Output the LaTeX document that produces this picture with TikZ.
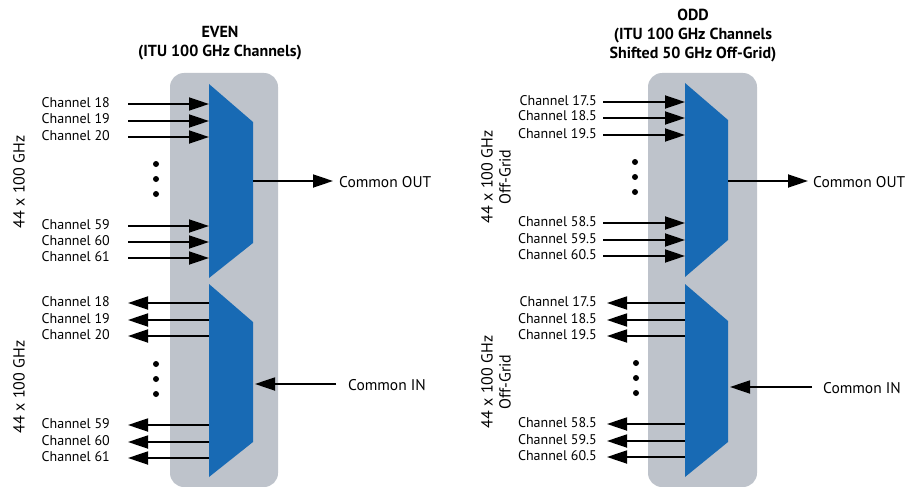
\documentclass[tikz,border=0pt]{standalone}
\usepackage{fontspec}
\setmainfont{PT Sans}
\usetikzlibrary{arrows.meta}
\definecolor{panelgray}{RGB}{190,195,203}
\definecolor{muxblue}{RGB}{24,106,180}
\begin{document}
\begin{tikzpicture}[x=1pt,y=-1pt,
  lbl/.style={font=\fontsize{14}{16}\selectfont, inner sep=0pt},
  clbl/.style={font=\fontsize{15.5}{17}\selectfont, inner sep=0pt},
  ttl/.style={font=\fontsize{16}{19}\selectfont\bfseries, align=center, inner sep=0pt},
  side/.style={font=\fontsize{16}{18}\selectfont, align=center, rotate=90, inner sep=0pt},
  conn/.style={line width=1.8pt, -{Triangle[length=20pt,width=13pt]}},
  dotc/.style={circle, fill=black, inner sep=0pt, minimum size=6pt},
  panel/.style={fill=panelgray, rounded corners=14pt},
  mux/.style={fill=muxblue}]
\useasboundingbox (0,0) rectangle (908,487);

% ---------------- EVEN panel ----------------
\fill[panel] (170,73) rectangle (278,487);
\fill[mux] (209,84) -- (253,122) -- (253,243) -- (209,278) -- cycle;
\fill[mux] (209,284) -- (253,322) -- (253,442) -- (209,477) -- cycle;

\node[ttl] (tEven) at (220,43) {EVEN\\(ITU 100 GHz Channels)};
\node[side] (sEvenA) at (19,182) {44 x 100 GHz};
\node[side] (sEvenB) at (19,387) {44 x 100 GHz};

\foreach \t/\y/\n in {18/104/a,19/121/b,20/137/c,59/226/d,60/242/e,61/258/f}{
  \coordinate (emA-\n) at (209,\y);
  \node[lbl, anchor=base east] (elA-\n) at (110,\y+3) {Channel \t};
  \draw[conn, shorten <=18pt] (elA-\n.east |- emA-\n) -- (emA-\n);
}
\foreach \t/\y/\n in {18/303/a,19/320/b,20/336/c,59/425/d,60/442/e,61/458/f}{
  \coordinate (emB-\n) at (209,\y);
  \node[lbl, anchor=base east] (elB-\n) at (110,\y+3) {Channel \t};
  \draw[conn, shorten >=18pt] (emB-\n) -- (elB-\n.east |- emB-\n);
}
\foreach \y/\n in {164/a,179/b,194/c}{\node[dotc] (edA-\n) at (156,\y) {};}
\foreach \y/\n in {364/a,379/b,394/c}{\node[dotc] (edB-\n) at (156,\y) {};}

\coordinate (eOut) at (253,181);
\node[clbl, anchor=west] (eOutL) at (339,182) {Common OUT};
\draw[conn, shorten >=6pt] (eOut) -- (eOutL.west |- eOut);
\coordinate (eIn) at (253,384);
\node[clbl, anchor=west] (eInL) at (348,385) {Common IN};
\draw[conn, shorten <=12pt, shorten >=2pt] (eInL.west |- eIn) -- (eIn);

% ---------------- ODD panel ----------------
\fill[panel] (648,73) rectangle (757,487);
\fill[mux] (685,83) -- (728,120) -- (728,240) -- (685,277) -- cycle;
\fill[mux] (685,284) -- (728,321) -- (728,442) -- (685,477) -- cycle;

\node[ttl] (tOdd) at (693,36) {ODD\\(ITU 100 GHz Channels\\Shifted 50 GHz Off-Grid)};
\node[side] (sOddA) at (496,177) {44 x 100 GHz\\Off-Grid};
\node[side] (sOddB) at (496,382) {44 x 100 GHz\\Off-Grid};

\foreach \t/\y/\n in {17.5/102/a,18.5/118/b,19.5/135/c,58.5/223/d,59.5/240/e,60.5/256/f}{
  \coordinate (omA-\n) at (685,\y);
  \node[lbl, anchor=base east] (olA-\n) at (597,\y+3) {Channel \t};
  \draw[conn, shorten <=6pt] (olA-\n.east |- omA-\n) -- (omA-\n);
}
\foreach \t/\y/\n in {17.5/303/a,18.5/320/b,19.5/336/c,58.5/424/d,59.5/441/e,60.5/457/f}{
  \coordinate (omB-\n) at (685,\y);
  \node[lbl, anchor=base east] (olB-\n) at (597,\y+3) {Channel \t};
  \draw[conn, shorten >=10pt] (omB-\n) -- (olB-\n.east |- omB-\n);
}
\foreach \y/\n in {162/a,177/b,192/c}{\node[dotc] (odA-\n) at (635,\y) {};}
\foreach \y/\n in {363/a,378/b,393/c}{\node[dotc] (odB-\n) at (636,\y) {};}

\coordinate (oOut) at (728,181);
\node[clbl, anchor=west] (oOutL) at (813,182) {Common OUT};
\draw[conn, shorten >=5pt] (oOut) -- (oOutL.west |- oOut);
\coordinate (oIn) at (728,387);
\node[clbl, anchor=west] (oInL) at (823,388) {Common IN};
\draw[conn, shorten <=11pt, shorten >=2pt] (oInL.west |- oIn) -- (oIn);
\end{tikzpicture}
\end{document}
